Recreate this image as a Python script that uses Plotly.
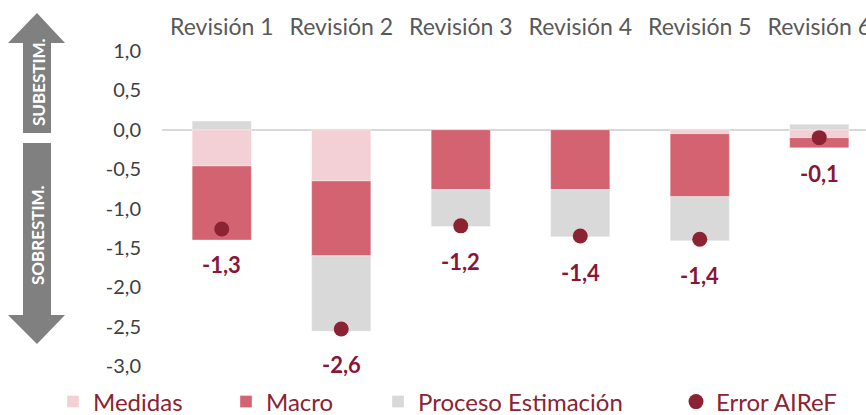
import plotly.graph_objects as go

# ---------------- data ----------------
categories = ["Revisión 1", "Revisión 2", "Revisión 3", "Revisión 4", "Revisión 5", "Revisión 6"]
medidas = [-0.46, -0.65, 0.0, 0.0, -0.05, -0.10]
macro = [-0.94, -0.95, -0.76, -0.76, -0.80, -0.13]
proceso = [0.11, -0.96, -0.47, -0.60, -0.56, 0.07]
error_airef = [-1.26, -2.53, -1.22, -1.35, -1.39, -0.10]
error_labels = ["-1,3", "-2,6", "-1,2", "-1,4", "-1,4", "-0,1"]
y_tickvals = [1.0, 0.5, 0.0, -0.5, -1.0, -1.5, -2.0, -2.5, -3.0]
y_ticktext = ["1,0", "0,5", "0,0", "-0,5", "-1,0", "-1,5", "-2,0", "-2,5", "-3,0"]

# ---------------- style ----------------
W, H = 866, 415
ML, MR, MT, MB = 162, 0, 51, 49
PW, PH = W - ML - MR, H - MT - MB
FONT = "Lato, 'Open Sans', sans-serif"
C_MED = "#F3D0D5"
C_MAC = "#D46371"
C_PRO = "#D9D9D9"
C_ERR = "#8B2332"
C_LAB = "#8A1538"
C_ARROW = "#808080"


def px_x(px):
    return (px - ML) / PW


def px_y(py):
    return (H - MB - py) / PH


line_style = dict(width=0.6, color="rgba(255,255,255,0.6)")
fig = go.Figure()
fig.add_trace(go.Bar(x=categories, y=medidas, name="Medidas", marker_color=C_MED,
                     marker_line=line_style, legend="legend"))
fig.add_trace(go.Bar(x=categories, y=macro, name="Macro", marker_color=C_MAC,
                     marker_line=line_style, legend="legend2"))
fig.add_trace(go.Bar(x=categories, y=proceso, name="Proceso Estimación", marker_color=C_PRO,
                     marker_line=line_style, legend="legend3"))
fig.add_trace(go.Scatter(x=categories, y=error_airef, name="Error AIReF", mode="markers",
                         marker=dict(color=C_ERR, size=15), legend="legend4"))

for c, v, t in zip(categories, error_airef, error_labels):
    fig.add_annotation(x=c, y=v, text="<b>%s</b>" % t, showarrow=False, yshift=-36,
                       font=dict(family=FONT, size=22, color=C_LAB))

# arrows on the left
up = [(37, 13), (65, 43), (51, 43), (51, 133), (23, 133), (23, 43), (8, 43)]
down = [(23, 143), (51, 143), (51, 315), (65, 315), (37, 344), (8, 315), (23, 315)]
for poly in (up, down):
    path = "M " + " L ".join("%f,%f" % (px_x(a), px_y(b)) for a, b in poly) + " Z"
    fig.add_shape(type="path", path=path, xref="paper", yref="paper",
                  fillcolor=C_ARROW, line=dict(width=0), layer="below")

for txt, yc in (("SUBESTIM.", 82), ("SOBRESTIM.", 235)):
    fig.add_annotation(x=px_x(38), y=px_y(yc), xref="paper", yref="paper", text="<b>%s</b>" % txt,
                       textangle=-90, showarrow=False, xanchor="center", yanchor="middle",
                       font=dict(family=FONT, size=17, color="white"))

legend_font = dict(family=FONT, size=24, color=C_ERR)
leg_common = dict(orientation="h", xref="container", yref="container", yanchor="middle",
                  y=1 - 402 / H, xanchor="left", font=legend_font, bgcolor="rgba(0,0,0,0)")
fig.update_layout(
    width=W, height=H,
    showlegend=True,
    margin=dict(l=ML, r=MR, t=MT, b=MB, autoexpand=False),
    paper_bgcolor="white", plot_bgcolor="white",
    barmode="relative", bargap=0.505,
    font=dict(family=FONT),
    legend=dict(x=53 / W, **leg_common),
    legend2=dict(x=226 / W, **leg_common),
    legend3=dict(x=378 / W, **leg_common),
    legend4=dict(x=676 / W, **leg_common),
    xaxis=dict(side="top", range=[-0.5, 5.5 - 13 / 119.5], showgrid=False, showline=False,
               ticks="", ticklabelstandoff=10,
               tickfont=dict(family=FONT, size=23, color="#595959"), fixedrange=True),
    yaxis=dict(range=[-3, 1], tickvals=y_tickvals, ticktext=y_ticktext, showgrid=False,
               showline=False, zeroline=True, zerolinecolor="#D9D9D9", zerolinewidth=1.5,
               ticks="", ticklabelstandoff=20, fixedrange=True,
               tickfont=dict(family=FONT, size=20, color="#404040")),
)

fig.write_html("out.html", config={"displayModeBar": False},
               post_script="document.body.style.margin='0';")
